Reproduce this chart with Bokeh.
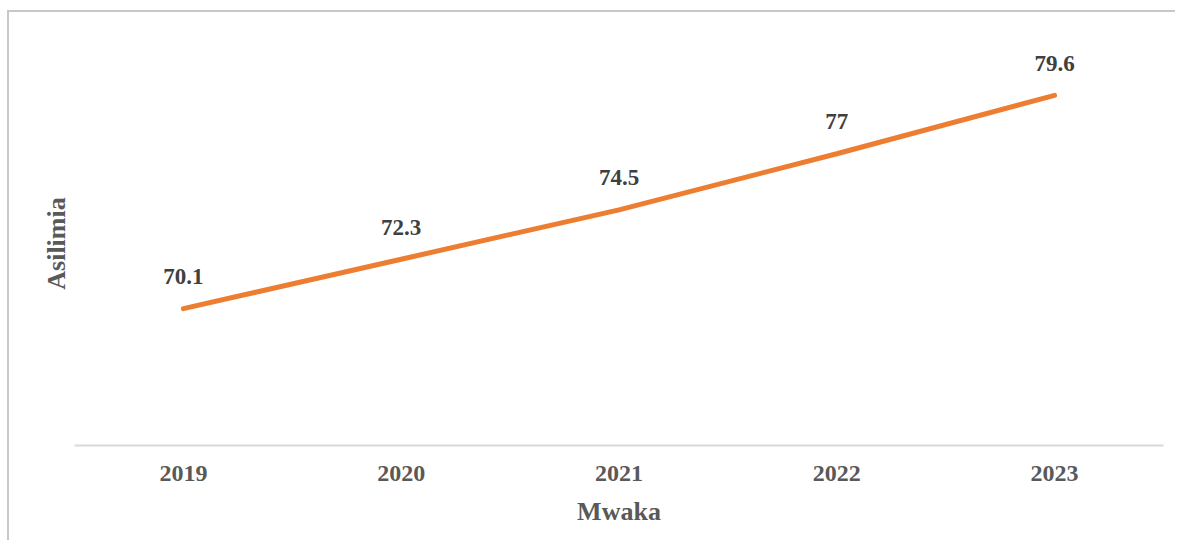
from bokeh.plotting import figure
from bokeh.models import ColumnDataSource, Range1d, FactorRange, LabelSet, InlineStyleSheet
from bokeh.core.properties import value
from bokeh.embed import file_html
from bokeh.resources import INLINE

years = ["2019", "2020", "2021", "2022", "2023"]
asilimia = [70.1, 72.3, 74.5, 77.0, 79.6]
labels = ["70.1", "72.3", "74.5", "77", "79.6"]

src = ColumnDataSource(dict(x=years, y=asilimia, t=labels))

css = InlineStyleSheet(css=""":host { margin-left: 7px; margin-top: 10px;
  border-top: 2px solid #c8c8c8; border-left: 2px solid #c8c8c8; }""")

p = figure(width=1168, height=530, x_range=FactorRange(*years), y_range=Range1d(64, 82),
           output_backend="svg", toolbar_location=None,
           min_border_left=65, min_border_right=14, min_border_top=29, min_border_bottom=97,
           stylesheets=[css])
p.outline_line_color = None
p.grid.visible = False

p.line("x", "y", source=src, line_color="#ED7D31", line_width=5, line_cap="round")

lbl = LabelSet(x="x", y="y", text="t", source=src, y_offset=32, text_align="center",
               text_baseline="middle", text_font=value("Liberation Serif"),
               text_font_style="bold", text_font_size="23px", text_color="#404040")
p.add_layout(lbl)

xa = p.xaxis[0]
xa.axis_line_color = "#d9d9d9"
xa.axis_line_width = 2
xa.major_tick_line_color = None
xa.minor_tick_line_color = None
xa.major_label_text_font = "Liberation Serif"
xa.major_label_text_font_style = "bold"
xa.major_label_text_font_size = "24px"
xa.major_label_text_color = "#595959"
xa.major_label_standoff = 14
xa.axis_label = "Mwaka"
xa.axis_label_text_font = "Liberation Serif"
xa.axis_label_text_font_style = "bold"
xa.axis_label_text_font_size = "26px"
xa.axis_label_text_color = "#595959"
xa.axis_label_standoff = 13

ya = p.yaxis[0]
ya.ticker = []
ya.axis_line_color = None
ya.major_tick_line_color = None
ya.minor_tick_line_color = None
ya.major_label_text_font_size = "0px"
ya.axis_label = "Asilimia"
ya.axis_label_text_font = "Liberation Serif"
ya.axis_label_text_font_style = "bold"
ya.axis_label_text_font_size = "26px"
ya.axis_label_text_color = "#595959"
ya.axis_label_standoff = 4

open("out.html", "w").write(file_html(p, INLINE))
